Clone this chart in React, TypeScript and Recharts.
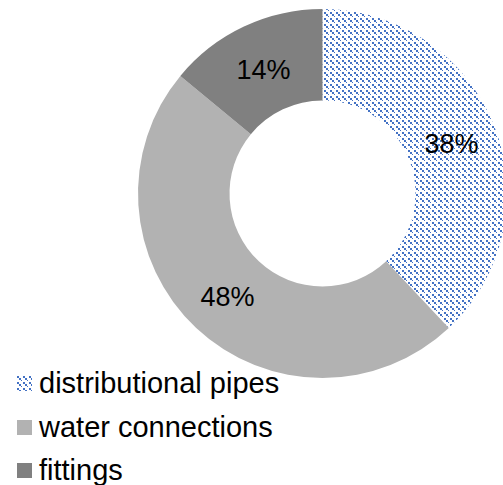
import { PieChart, Pie, Cell, Legend } from "recharts";

const categories = ["distributional pipes", "water connections", "fittings"];
const shares = [38, 48, 14];
const fills = ["url(#pipesPattern)", "#B2B2B2", "#808080"];

const data = categories.map((name, i) => ({ name, value: shares[i] }));

const RAD = Math.PI / 180;

function renderLabel(props: any) {
  const { cx, cy, midAngle, innerRadius, outerRadius, value } = props;
  const r = (innerRadius + outerRadius) / 2;
  const x = cx + r * Math.cos(-midAngle * RAD);
  const y = cy + r * Math.sin(-midAngle * RAD);
  return (
    <text
      x={x}
      y={y + 2}
      textAnchor="middle"
      dominantBaseline="central"
      fill="#000"
      fontSize={27}
      fontFamily="'Liberation Sans', Arial, sans-serif"
    >
      {`${value}%`}
    </text>
  );
}

function LegendList() {
  return (
    <div style={{ fontFamily: "'Liberation Sans', Arial, sans-serif", fontSize: 29, color: "#000" }}>
      {data.map((d, i) => (
        <div key={d.name} style={{ display: "flex", alignItems: "center", height: 43.5 }}>
          <svg width={15} height={15} style={{ marginRight: 7 }}>
            <rect width={15} height={15} fill={fills[i]} />
          </svg>
          <span>{d.name}</span>
        </div>
      ))}
    </div>
  );
}

export default function App() {
  return (
    <div style={{ position: "absolute", left: 0, top: 0, width: 503, height: 485, overflow: "hidden", background: "#fff" }}>
      <PieChart width={503} height={485} margin={{ top: 0, right: 0, bottom: 0, left: 0 }}>
        <defs>
          {/* dashed downward diagonal, like the office pattern fill */}
          <pattern id="pipesPattern" width={6} height={6} patternUnits="userSpaceOnUse">
            <rect x={0} y={0} width={2} height={2} fill="#4472C4" />
            <rect x={2} y={2} width={2} height={2} fill="#4472C4" />
            <rect x={4} y={4} width={1} height={1} fill="#4472C4" />
          </pattern>
        </defs>
        <Pie
          data={data}
          dataKey="value"
          nameKey="name"
          cx={322.5}
          cy={193.5}
          innerRadius={93}
          outerRadius={184.5}
          startAngle={90}
          endAngle={-270}
          stroke="none"
          label={renderLabel}
          labelLine={false}
          isAnimationActive={false}
        >
          {data.map((d, i) => (
            <Cell key={d.name} fill={fills[i]} />
          ))}
        </Pie>
        <Legend
          content={() => <LegendList />}
          wrapperStyle={{ position: "absolute", left: 17, top: 362, width: 320 }}
        />
      </PieChart>
    </div>
  );
}
